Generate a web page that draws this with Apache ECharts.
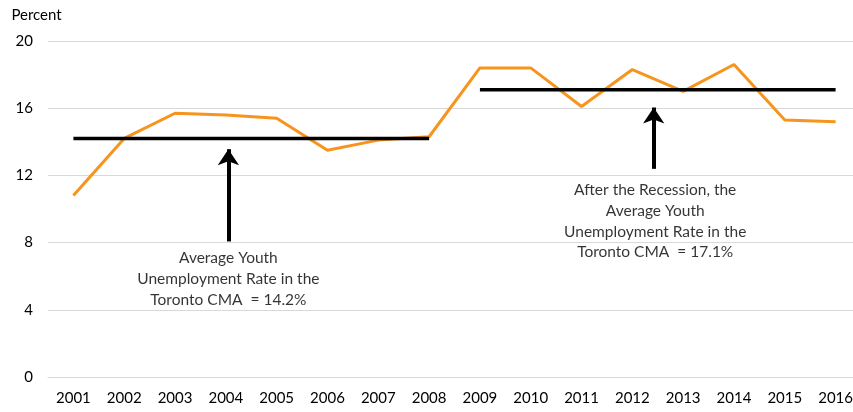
<!DOCTYPE html>
<html>
<head>
<meta charset="utf-8">
<script src="https://cdn.jsdelivr.net/npm/echarts@6/dist/echarts.min.js"></script>
<style>html,body{margin:0;padding:0;background:#fff;}#c{width:853px;height:412px;}</style>
</head>
<body>
<div id="c"></div>
<script>
const years = ['2001','2002','2003','2004','2005','2006','2007','2008','2009','2010','2011','2012','2013','2014','2015','2016'];
const youthRate = [10.8, 14.2, 15.7, 15.6, 15.4, 13.5, 14.1, 14.3, 18.4, 18.4, 16.1, 18.3, 17.0, 18.6, 15.3, 15.2];
const avgBefore = 14.2;   // 2001-2008
const avgAfter = 17.1;    // 2009-2016
const yTicks = [0, 4, 8, 12, 16, 20];
const note1 = 'Average Youth\nUnemployment Rate in the\nToronto CMA  = 14.2%';
const note2 = 'After the Recession, the\nAverage Youth\nUnemployment Rate in the\nToronto CMA  = 17.1%';

const beforeData = years.map((y, i) => i <= 7 ? avgBefore : null);
const afterData = years.map((y, i) => i >= 8 ? avgAfter : null);

const FONT = 'Lato';
const chart = echarts.init(document.getElementById('c'), null, {renderer: 'canvas'});
chart.setOption({
  animation: false,
  backgroundColor: '#fff',
  textStyle: {fontFamily: FONT},
  grid: {left: 48, top: 41, right: -8, bottom: 35, containLabel: false, outerBoundsMode: 'none'},
  xAxis: [{
    type: 'category', data: years, boundaryGap: true,
    axisLine: {show: true, lineStyle: {color: '#D9D9D9', width: 1}},
    axisTick: {show: false},
    axisLabel: {color: '#000', fontSize: 15, fontFamily: FONT, margin: 14}
  }, {
    type: 'value', min: -0.5, max: 15.5, show: false
  }],
  yAxis: {
    type: 'value', min: yTicks[0], max: yTicks[yTicks.length - 1], interval: 4,
    name: 'Percent', nameLocation: 'end', nameGap: 18,
    nameTextStyle: {color: '#000', fontSize: 15, fontFamily: FONT, align: 'left', padding: [0, 0, 0, -62]},
    axisLine: {show: false}, axisTick: {show: false},
    axisLabel: {color: '#000', fontSize: 15, fontFamily: FONT, margin: 15},
    splitLine: {lineStyle: {color: '#D9D9D9', width: 1}}
  },
  series: [{
    type: 'line', data: youthRate, symbol: 'none',
    lineStyle: {color: '#F7941D', width: 3}, z: 3
  }, {
    type: 'line', data: beforeData, symbol: 'none',
    lineStyle: {color: '#000', width: 3.5}, z: 4
  }, {
    type: 'line', data: afterData, symbol: 'none',
    lineStyle: {color: '#000', width: 3.5}, z: 4
  }, {
    type: 'lines', coordinateSystem: 'cartesian2d', xAxisIndex: 1, yAxisIndex: 0,
    symbol: ['none', 'arrow'], symbolSize: [14, 16],
    lineStyle: {color: '#000', width: 4, opacity: 1},
    data: [
      {coords: [[3.05, 8.07], [3.05, 13.56]]},
      {coords: [[11.42, 12.39], [11.42, 16.04]]}
    ], z: 5
  }, {
    type: 'scatter', xAxisIndex: 1, yAxisIndex: 0, symbolSize: 0,
    silent: true,
    label: {show: true, position: 'inside', color: '#000', fontSize: 15.5, fontFamily: FONT,
      lineHeight: 20.7, align: 'center', verticalAlign: 'middle',
      formatter: p => p.data.t},
    data: [
      {value: [3.05, 5.83], t: note1},
      {value: [11.45, 9.27], t: note2}
    ], z: 6
  }]
});
</script>
</body>
</html>
